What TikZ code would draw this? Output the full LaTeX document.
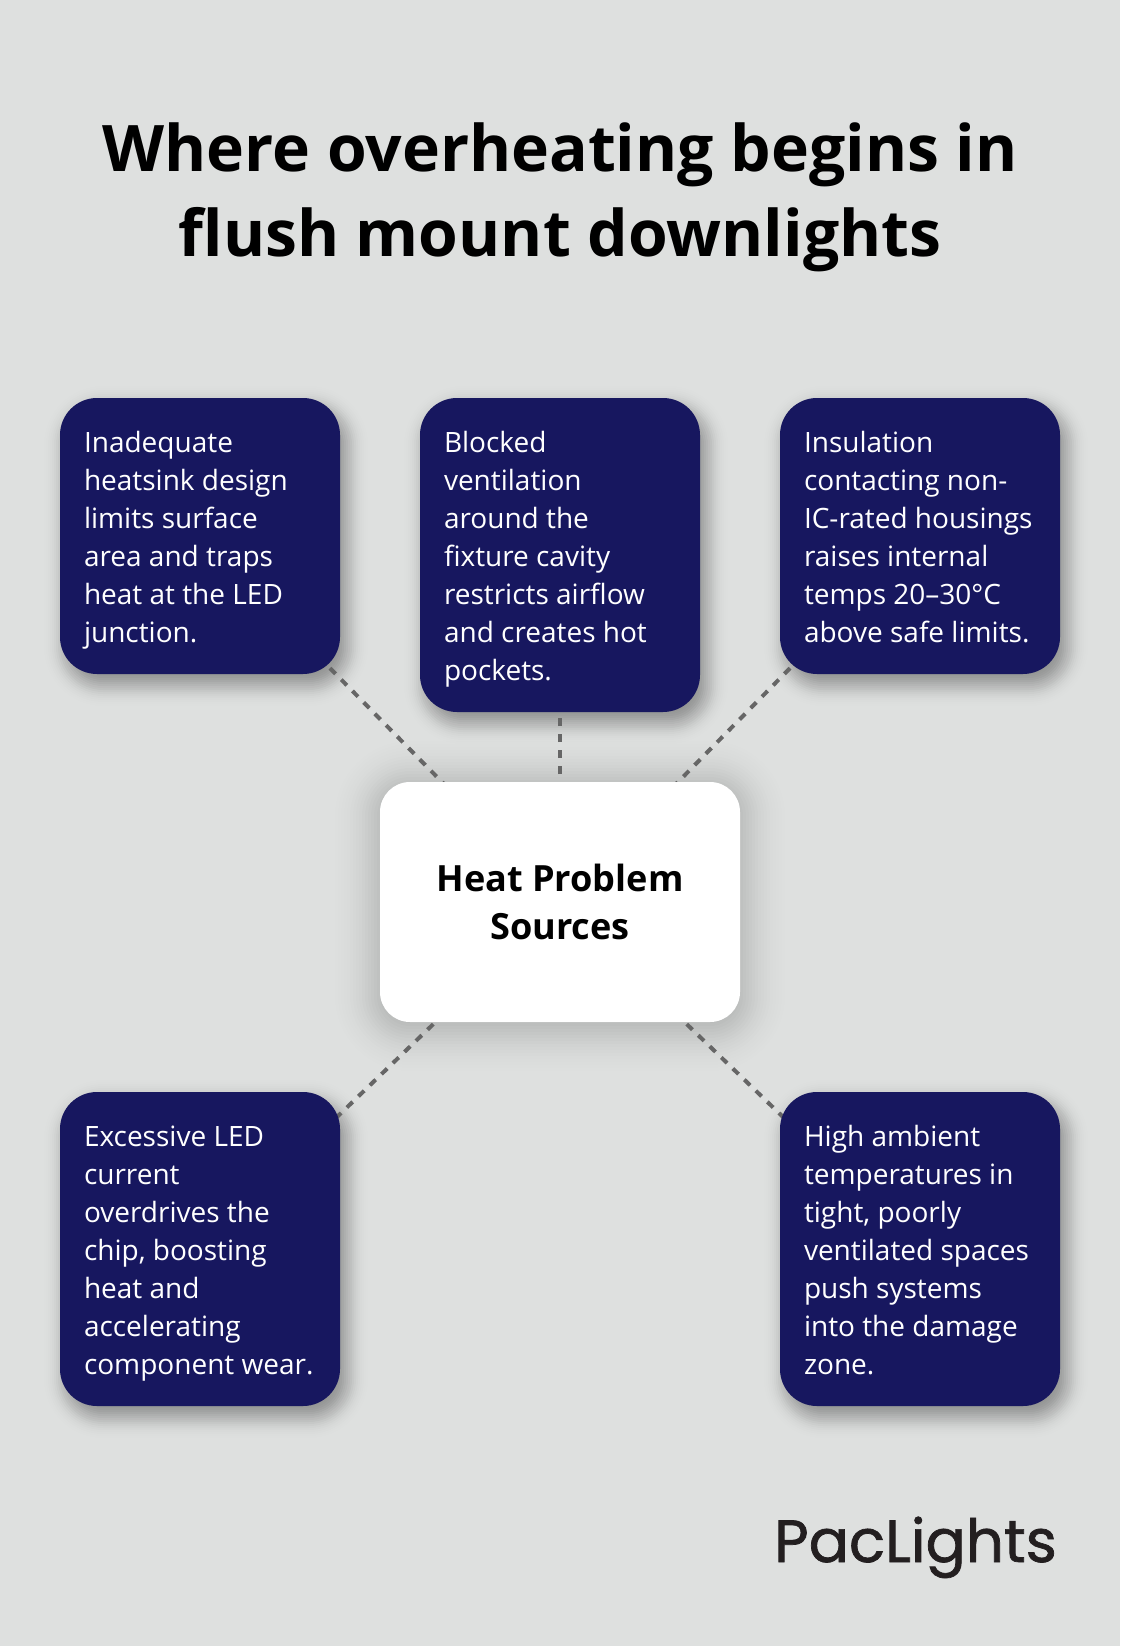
\documentclass[tikz,border=0pt]{standalone}
\usepackage{fontspec}
\setmainfont{Open Sans}
\newfontfamily\logofont[FakeBold=1.2]{Poppins}
\definecolor{pagebg}{HTML}{DEE0DF}
\definecolor{navy}{HTML}{17175F}
\definecolor{linegray}{HTML}{666666}
\definecolor{logoink}{HTML}{231F20}
\pgfdeclarelayer{shadowlayer}
\pgfdeclarelayer{linelayer}
\pgfsetlayers{shadowlayer,linelayer,main}
\tikzset{
  x=1pt,y=-1pt,
  cardbox/.style={rounded corners=37pt,fill=navy,text=white,draw=none,inner xsep=24pt,inner ysep=0pt,
    minimum width=280pt,text width=232pt,align=flush left,font=\fontsize{28}{38}\selectfont,
    execute at begin node={\rule[-8pt]{0pt}{38pt}},execute at end node={\rule[-8pt]{0pt}{38pt}}},
  hubbox/.style={rounded corners=30pt,fill=white,text=black,draw=none,inner sep=0pt,
    minimum width=360pt,minimum height=240pt,align=flush center,font=\fontsize{36.1}{48}\bfseries\selectfont,
    execute at begin node={\rule{0pt}{50pt}}},
  linkline/.style={draw=linegray,line width=4pt,dash pattern=on 8pt off 8pt},
  titletext/.style={align=flush center,text=black,inner sep=0pt,font=\fontsize{64.2}{85}\bfseries\selectfont},
  logotext/.style={anchor=base east,text=logoink,inner sep=0pt,font=\logofont\fontsize{59.6}{60}\selectfont},
}
% x1 y1 x2 y2 radius : soft shadow built from Gaussian-weighted layers
\newcommand{\cardshadow}[5]{%
  \foreach \k in {-24,-22,...,24}{
    \pgfmathsetmacro{\rr}{max(#5+\k,1)}
    \pgfmathsetmacro{\oo}{0.032*exp(-(\k*\k)/200)}
    \fill[black,opacity=\oo,rounded corners=\rr pt]
      ({#1+6-\k},{#2+10-\k}) rectangle ({#3+6+\k},{#4+10+\k});
  }}
\newcommand{\hubshadow}[5]{%
  \foreach \k in {-60,-57,...,60}{
    \pgfmathsetmacro{\rr}{max(#5+\k,1)}
    \pgfmathsetmacro{\oo}{0.0135*exp(-(\k*\k)/1152)}
    \fill[black,opacity=\oo,rounded corners=\rr pt]
      ({#1-\k},{#2+4-\k}) rectangle ({#3+\k},{#4+4+\k});
  }}
\begin{document}
\begin{tikzpicture}
\useasboundingbox (0,0) rectangle (1120,1646);

\node[titletext] (title) at (560,197.5) {Where overheating begins in\\flush mount downlights};

\node[hubbox] (hub) at (560,902) {Heat Problem\\Sources};

\node[cardbox,minimum height=276pt] (c1) at (200,536) {Inadequate\\heatsink design\\limits surface\\area and traps\\heat at the LED\\junction.};
\node[cardbox,minimum height=314pt] (c2) at (560,555) {Blocked\\ventilation\\around the\\fixture cavity\\restricts airflow\\and creates hot\\pockets.};
\node[cardbox,minimum height=276pt] (c3) at (920,536) {Insulation\\contacting non-\\IC-rated housings\\raises internal\\temps 20–30°C\\above safe limits.};
\node[cardbox,minimum height=314pt] (c4) at (200,1249) {Excessive LED\\current\\overdrives the\\chip, boosting\\heat and\\accelerating\\component wear.};
\node[cardbox,minimum height=314pt] (c5) at (920,1249) {High ambient\\temperatures in\\tight, poorly\\ventilated spaces\\push systems\\into the damage\\zone.};

\node[logotext] (logo) at (1057,1562) {PacLights};

\begin{pgfonlayer}{linelayer}
  \draw[linkline] (hub.center) -- (c1.center);
  \draw[linkline] (hub.center) -- (c2.center);
  \draw[linkline] (hub.center) -- (c3.center);
  \draw[linkline] (hub.center) -- (c4.center);
  \draw[linkline] (hub.center) -- (c5.center);
\end{pgfonlayer}

\begin{pgfonlayer}{shadowlayer}
  \fill[pagebg] (0,0) rectangle (1120,1646);
  \hubshadow{380}{782}{740}{1022}{30}
  \cardshadow{60}{398}{340}{674}{37}
  \cardshadow{420}{398}{700}{712}{37}
  \cardshadow{780}{398}{1060}{674}{37}
  \cardshadow{60}{1092}{340}{1406}{37}
  \cardshadow{780}{1092}{1060}{1406}{37}
\end{pgfonlayer}
\end{tikzpicture}
\end{document}
